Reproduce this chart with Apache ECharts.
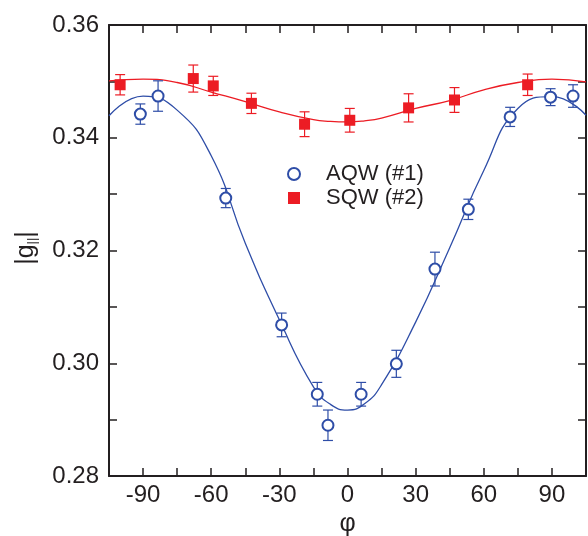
<!DOCTYPE html>
<html>
<head>
<meta charset="utf-8">
<title>g-factor vs angle</title>
<script src="https://cdn.jsdelivr.net/npm/echarts@6/dist/echarts.min.js"></script>
<style>
  html, body { margin: 0; padding: 0; background: #fff; }
  #main { width: 588px; height: 536px; }
</style>
</head>
<body>
<div id="main"></div>
<script>
// AQW (#1) measured points
var aqwPhi = [-91.2, -83.4, -53.6, -29.0, -13.3, -8.6, 6.0, 21.5, 38.5, 53.2, 71.6, 89.4, 99.3];
var aqwG   = [0.3442, 0.3474, 0.3293, 0.3068, 0.2945, 0.2890, 0.2945, 0.2999, 0.3167, 0.3273, 0.3437, 0.3472, 0.3474];
var aqwErr = [0.0018, 0.0027, 0.0017, 0.0021, 0.0021, 0.0027, 0.0021, 0.0024, 0.0030, 0.0018, 0.0017, 0.0015, 0.0020];

// SQW (#2) measured points
var sqwPhi = [-100.1, -67.9, -59.1, -42.3, -18.9, 1.0, 26.9, 47.1, 79.3];
var sqwG   = [0.3494, 0.3505, 0.3492, 0.3461, 0.3424, 0.3431, 0.3453, 0.3467, 0.3494];
var sqwErr = [0.0018, 0.0024, 0.0017, 0.0018, 0.0022, 0.0021, 0.0025, 0.0022, 0.0019];

// fit curves
var fitPhi  = [-105, -90, -75, -60, -45, -30, -15, -7.5, 0, 7.5, 15, 30, 45, 60, 75, 90, 105];
var aqwFit  = [0.3439, 0.3474, 0.3449, 0.3368, 0.3213, 0.3077, 0.2958, 0.2927, 0.2917, 0.2928, 0.2962, 0.3073, 0.3205, 0.3342, 0.3452, 0.3473, 0.3440];
var sqwFit  = [0.3501, 0.3504, 0.3498, 0.3481, 0.3464, 0.3446, 0.3432, 0.3429, 0.3428, 0.3430, 0.3435, 0.3452, 0.3466, 0.3485, 0.3498, 0.3504, 0.3499];

var blue = '#2E4DA7', red = '#EC1C24', ink = '#231F20';

function zip(a, b, c) {
    var out = [];
    for (var i = 0; i < a.length; i++) out.push(c ? [a[i], b[i], c[i]] : [a[i], b[i]]);
    return out;
}

// error bars with small caps
function errBars(color) {
    return function (params, api) {
        var x = api.value(0), y = api.value(1), e = api.value(2);
        var hi = api.coord([x, y + e]), lo = api.coord([x, y - e]);
        var w = 5, st = { stroke: color, lineWidth: 1.2 };
        return {
            type: 'group',
            children: [
                { type: 'line', shape: { x1: hi[0], y1: hi[1], x2: lo[0], y2: lo[1] }, style: st },
                { type: 'line', shape: { x1: hi[0] - w, y1: hi[1], x2: hi[0] + w, y2: hi[1] }, style: st },
                { type: 'line', shape: { x1: lo[0] - w, y1: lo[1], x2: lo[0] + w, y2: lo[1] }, style: st }
            ]
        };
    };
}

var myChart = echarts.init(document.getElementById('main'));

var axLine = { onZero: false, lineStyle: { color: ink, width: 2 } };
var tick = { inside: true, length: 8, lineStyle: { color: ink, width: 1.5 } };

myChart.setOption({
    animation: false,
    textStyle: { fontFamily: 'Liberation Sans, Arial, sans-serif' },
    grid: { left: 109, right: 2, top: 25, bottom: 60, outerBoundsMode: 'none', containLabel: false },
    legend: {
        orient: 'vertical',
        left: 287,
        top: 163,
        padding: 0,
        itemWidth: 12,
        itemHeight: 12,
        itemGap: 2,
        data: ['AQW (#1)', 'SQW (#2)'],
        textStyle: { fontSize: 22, color: ink, padding: [0, 0, 0, 21] }
    },
    xAxis: [{
        type: 'value', min: -105, max: 105, interval: 15,
        name: 'φ', nameLocation: 'middle', nameGap: 35,
        nameTextStyle: { fontSize: 25, color: ink },
        axisLine: axLine, axisTick: tick, splitLine: { show: false },
        axisLabel: {
            fontSize: 24, color: ink, margin: 7,
            formatter: function (v) { return (v % 30 === 0 && Math.abs(v) <= 90) ? String(v) : ''; }
        }
    }, {
        type: 'value', position: 'top', min: -105, max: 105, interval: 15,
        axisLine: axLine, axisTick: tick, axisLabel: { show: false }, splitLine: { show: false }
    }],
    yAxis: [{
        type: 'value', min: 0.28, max: 0.36, interval: 0.01,
        name: '{n|\u2009|g}{s|||}{n||}', nameLocation: 'middle', nameGap: 70, nameRotate: 90,
        nameTextStyle: {
            color: ink,
            rich: {
                n: { fontSize: 25, color: ink },
                s: { fontSize: 13, color: ink, verticalAlign: 'bottom' }
            }
        },
        axisLine: axLine, axisTick: tick, splitLine: { show: false },
        axisLabel: {
            fontSize: 24, color: ink, margin: 10,
            formatter: function (v) { return Math.round(v * 100) % 2 === 0 ? v.toFixed(2) : ''; }
        }
    }, {
        type: 'value', position: 'right', min: 0.28, max: 0.36, interval: 0.01,
        axisLine: axLine, axisTick: tick, axisLabel: { show: false }, splitLine: { show: false }
    }],
    series: [{
        name: 'aqw fit', type: 'line', smooth: 0.5, showSymbol: false, silent: true,
        data: zip(fitPhi, aqwFit), lineStyle: { color: blue, width: 1.3 }, z: 2
    }, {
        name: 'sqw fit', type: 'line', smooth: 0.5, showSymbol: false, silent: true,
        data: zip(fitPhi, sqwFit), lineStyle: { color: red, width: 1.3 }, z: 2
    }, {
        type: 'custom', renderItem: errBars(blue), data: zip(aqwPhi, aqwG, aqwErr), z: 3
    }, {
        type: 'custom', renderItem: errBars(red), data: zip(sqwPhi, sqwG, sqwErr), z: 3
    }, {
        name: 'AQW (#1)', type: 'scatter', symbol: 'emptyCircle', symbolSize: 11,
        data: zip(aqwPhi, aqwG),
        itemStyle: { color: blue, borderColor: blue, borderWidth: 1.8, opacity: 1 }, z: 4
    }, {
        name: 'SQW (#2)', type: 'scatter', symbol: 'rect', symbolSize: 11,
        data: zip(sqwPhi, sqwG),
        itemStyle: { color: red, opacity: 1 }, z: 4
    }]
});
</script>
</body>
</html>
